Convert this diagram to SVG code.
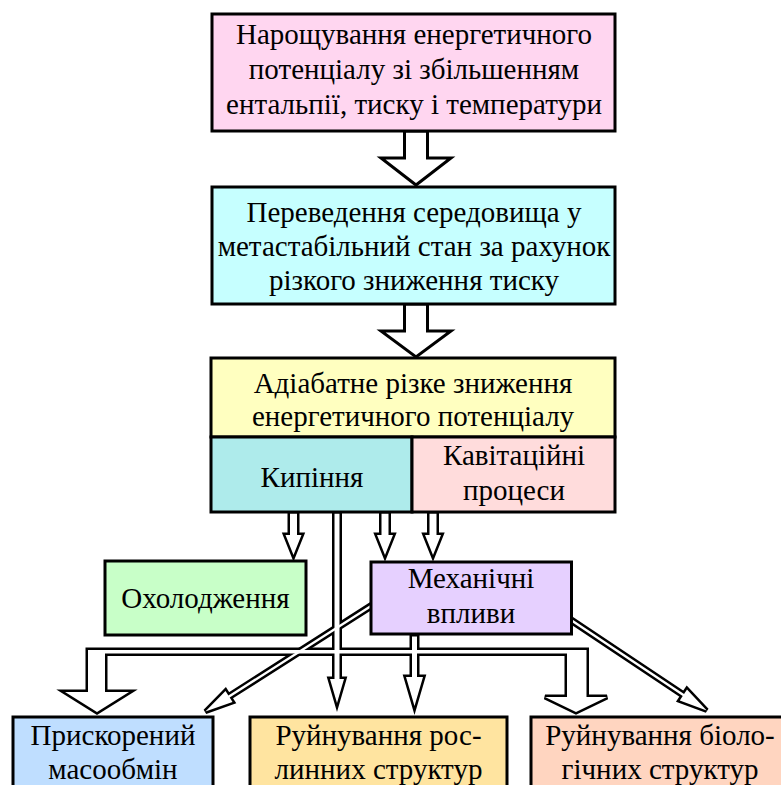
<svg xmlns="http://www.w3.org/2000/svg" xmlns:xlink="http://www.w3.org/1999/xlink" width="781" height="785" viewBox="0 0 781 785">
<style>
  .box { stroke:#000; stroke-width:3; }
  .t { font-family:"Liberation Serif","Times New Roman",serif; font-size:29px; fill:#000; text-anchor:middle; }
  .big { fill:#fff; stroke:#000; stroke-width:3; stroke-linejoin:miter; }
</style>
<defs>
  <polygon id="a1" points="290,513.5 297,513.5 297,535 301.5,535 293.5,555 285.5,535 290,535"/>
  <polygon id="a2" points="381.5,513.5 388.5,513.5 388.5,535 393,535 385,555 377,535 381.5,535"/>
  <polygon id="a3" points="429.5,513.5 436.5,513.5 436.5,535 441,535 433,555 425,535 429.5,535"/>
  <polygon id="kv" points="334.5,513.5 339.5,513.5 339.5,679 344,679 337,703 330,679 334.5,679"/>
  <polygon id="mv" points="412,636.5 417,636.5 417,677 423,677 414.5,706 406,677 412,677"/>
  <polygon id="band" points="88,650 586.5,650 586.5,697 607,697 576,712 545,697 567,697 567,653.5 105,653.5 105,692 129,692 97,712 65,692 88,692"/>
  <polygon id="dl" points="374.35,602.4 228.35,695.5 225.5,691 205.4,711.6 232.5,702 229.65,697.5 375.65,604.4"/>
  <polygon id="dr" points="568.66,617.1 684.06,694 687,689.6 706.7,710.5 679.8,700.4 682.74,696 567.34,619.1"/>
</defs>
<g id="connectors">
  <polygon class="big" points="404.5,131 427.5,131 427.5,158 451,158 416,185 381,158 404.5,158"/>
  <polygon class="big" points="404.5,304 427.5,304 427.5,331 451,331 416,357 381,331 404.5,331"/>
  <g fill="none" stroke="#000" stroke-width="5" stroke-linejoin="miter">
    <use xlink:href="#a1"/><use xlink:href="#a2"/><use xlink:href="#a3"/>
    <use xlink:href="#kv"/><use xlink:href="#mv"/><use xlink:href="#band"/>
    <use xlink:href="#dl"/><use xlink:href="#dr"/>
  </g>
  <g fill="#fff" stroke="none">
    <use xlink:href="#a1"/><use xlink:href="#a2"/><use xlink:href="#a3"/>
    <use xlink:href="#kv"/><use xlink:href="#mv"/><use xlink:href="#band"/>
    <use xlink:href="#dl"/><use xlink:href="#dr"/>
  </g>
</g>
<g id="n1">
  <rect class="box" x="212" y="14" width="403" height="117" fill="#FFD6F0"/>
  <text class="t" x="414" y="43.5">Нарощування енергетичного</text>
  <text class="t" x="414" y="79">потенціалу зі збільшенням</text>
  <text class="t" x="414" y="113.5">ентальпії, тиску і температури</text>
</g>
<g id="n2">
  <rect class="box" x="212" y="187" width="403" height="117" fill="#C6FFFF"/>
  <text class="t" x="414" y="222">Переведення середовища у</text>
  <text class="t" x="414" y="256">метастабільний стан за рахунок</text>
  <text class="t" x="414" y="290">різкого зниження тиску</text>
</g>
<g id="n3">
  <rect class="box" x="211" y="358" width="404" height="79" fill="#FFFFC0"/>
  <text class="t" x="413" y="393">Адіабатне різке зниження</text>
  <text class="t" x="413" y="426">енергетичного потенціалу</text>
</g>
<g id="n4">
  <rect class="box" x="211" y="437" width="201" height="75" fill="#AEEBEB"/>
  <text class="t" x="312" y="487">Кипіння</text>
</g>
<g id="n5">
  <rect class="box" x="412" y="437" width="203" height="75" fill="#FFDCDC"/>
  <text class="t" x="514" y="465">Кавітаційні</text>
  <text class="t" x="514" y="500">процеси</text>
</g>
<g id="n6">
  <rect class="box" x="105" y="561" width="201" height="74" fill="#C8FFC8"/>
  <text class="t" x="205.5" y="608">Охолодження</text>
</g>
<g id="n7">
  <rect class="box" x="371" y="562" width="200.5" height="72" fill="#E6D0FF"/>
  <text class="t" x="471" y="588">Механічні</text>
  <text class="t" x="471" y="623">впливи</text>
</g>
<g id="n8">
  <rect class="box" x="13" y="717" width="200" height="90" fill="#BFDEFF"/>
  <text class="t" x="113" y="745">Прискорений</text>
  <text class="t" x="113" y="779">масообмін</text>
</g>
<g id="n9">
  <rect class="box" x="250" y="717" width="257" height="90" fill="#FFE4A0"/>
  <text class="t" x="378.5" y="745">Руйнування рос-</text>
  <text class="t" x="378.5" y="779">линних структур</text>
</g>
<g id="n10">
  <rect class="box" x="531" y="717" width="270" height="90" fill="#FFD5C0"/>
  <text class="t" x="660" y="745">Руйнування біоло-</text>
  <text class="t" x="660" y="779">гічних структур</text>
</g>
</svg>
